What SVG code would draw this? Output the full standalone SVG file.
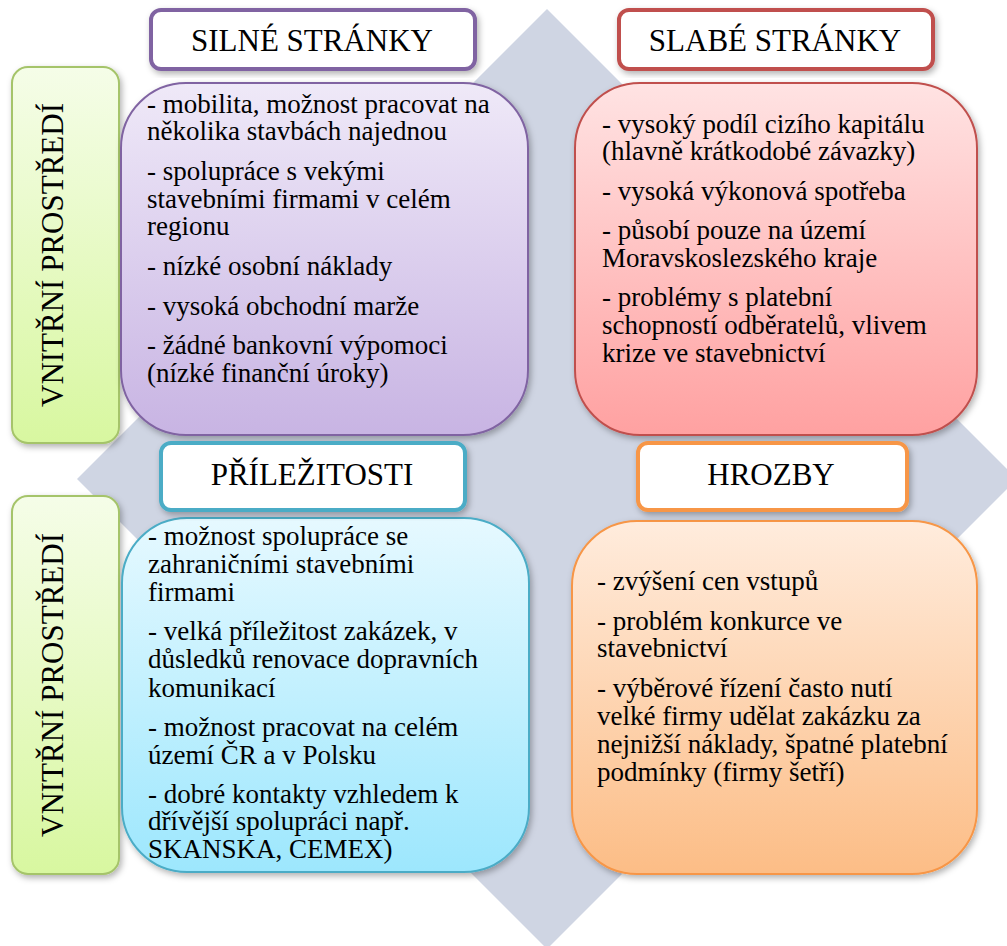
<svg xmlns="http://www.w3.org/2000/svg" width="1007" height="946" viewBox="0 0 1007 946">
  <style>
    .hdr { fill: #ffffff; stroke-width: 4; }
    .box { stroke-width: 2; }
    .t { font-family: 'Liberation Serif', 'Times New Roman', serif; fill: #000000; }
    .ht { font-size: 31px; text-anchor: middle; }
    .bt { font-size: 27px; }
    .side { fill: url(#gGreen); stroke: #a5c46a; stroke-width: 2; }
  </style>
  <defs>
    <linearGradient id="gGreen" x1="0" y1="0" x2="0" y2="1">
      <stop offset="0" stop-color="#f5fde8"/>
      <stop offset="1" stop-color="#d8f7a0"/>
    </linearGradient>
    <linearGradient id="gPurple" x1="0" y1="0" x2="0" y2="1">
      <stop offset="0" stop-color="#efe9f8"/>
      <stop offset="1" stop-color="#c8b4e3"/>
    </linearGradient>
    <linearGradient id="gRed" x1="0" y1="0" x2="0" y2="1">
      <stop offset="0" stop-color="#ffe3e3"/>
      <stop offset="1" stop-color="#ffa1a1"/>
    </linearGradient>
    <linearGradient id="gBlue" x1="0" y1="0" x2="0" y2="1">
      <stop offset="0" stop-color="#e6f9ff"/>
      <stop offset="1" stop-color="#9de7fd"/>
    </linearGradient>
    <linearGradient id="gOrange" x1="0" y1="0" x2="0" y2="1">
      <stop offset="0" stop-color="#ffecdd"/>
      <stop offset="1" stop-color="#fcbd86"/>
    </linearGradient>
    <filter id="sh" x="-10%" y="-10%" width="125%" height="125%">
      <feDropShadow dx="2" dy="3" stdDeviation="3" flood-color="#000000" flood-opacity="0.3"/>
    </filter>
  </defs>

  <rect x="0" y="0" width="1007" height="946" fill="#ffffff"/>

  <!-- background diamond -->
  <polygon points="547,9 1017,479 547,949 77,479" fill="#cfd5e3"/>

  <!-- side labels -->
  <g id="side-top">
    <rect class="side" x="12" y="67" width="107" height="376" rx="16" filter="url(#sh)"/>
    <text class="t" font-size="31" text-anchor="middle" transform="translate(63,255) rotate(-90)">VNITŘNÍ PROSTŘEDÍ</text>
  </g>
  <g id="side-bottom">
    <rect class="side" x="12" y="496" width="107" height="378" rx="16" filter="url(#sh)"/>
    <text class="t" font-size="31" text-anchor="middle" transform="translate(63,685) rotate(-90)">VNITŘNÍ PROSTŘEDÍ</text>
  </g>

  <!-- Strengths -->
  <g id="strengths">
    <rect class="box" x="121" y="83" width="407" height="352" rx="65" fill="url(#gPurple)" stroke="#8064a2" filter="url(#sh)"/>
    <text class="t bt">
      <tspan x="147" y="113">- mobilita, možnost pracovat na</tspan>
      <tspan x="147" y="140">několika stavbách najednou</tspan>
      <tspan x="147" y="180">- spolupráce s vekými</tspan>
      <tspan x="147" y="208">stavebními firmami v celém</tspan>
      <tspan x="147" y="235">regionu</tspan>
      <tspan x="147" y="275">- nízké osobní náklady</tspan>
      <tspan x="147" y="315">- vysoká obchodní marže</tspan>
      <tspan x="147" y="354">- žádné bankovní výpomoci</tspan>
      <tspan x="147" y="382">(nízké finanční úroky)</tspan>
    </text>
  </g>
  <g id="strengths-header">
    <rect class="hdr" x="151" y="10" width="324" height="59" rx="10" stroke="#8064a2" filter="url(#sh)"/>
    <text class="t ht" x="312" y="51">SILNÉ STRÁNKY</text>
  </g>

  <!-- Weaknesses -->
  <g id="weaknesses">
    <rect class="box" x="575" y="83" width="402" height="352" rx="65" fill="url(#gRed)" stroke="#c0504d" filter="url(#sh)"/>
    <text class="t bt">
      <tspan x="602" y="133">- vysoký podíl cizího kapitálu</tspan>
      <tspan x="602" y="160">(hlavně krátkodobé závazky)</tspan>
      <tspan x="602" y="200">- vysoká výkonová spotřeba</tspan>
      <tspan x="602" y="239">- působí pouze na území</tspan>
      <tspan x="602" y="267">Moravskoslezského kraje</tspan>
      <tspan x="602" y="306">- problémy s platební</tspan>
      <tspan x="602" y="334">schopností odběratelů, vlivem</tspan>
      <tspan x="602" y="362">krize ve stavebnictví</tspan>
    </text>
  </g>
  <g id="weaknesses-header">
    <rect class="hdr" x="619" y="10" width="314" height="59" rx="10" stroke="#c0504d" filter="url(#sh)"/>
    <text class="t ht" x="775" y="51">SLABÉ STRÁNKY</text>
  </g>

  <!-- Opportunities -->
  <g id="opportunities">
    <rect class="box" x="122" y="518" width="407" height="354" rx="65" fill="url(#gBlue)" stroke="#4bacc6" filter="url(#sh)"/>
    <text class="t bt">
      <tspan x="148" y="545">- možnost spolupráce se</tspan>
      <tspan x="148" y="573">zahraničními stavebními</tspan>
      <tspan x="148" y="601">firmami</tspan>
      <tspan x="148" y="640">- velká příležitost zakázek, v</tspan>
      <tspan x="148" y="668">důsledků renovace dopravních</tspan>
      <tspan x="148" y="697">komunikací</tspan>
      <tspan x="148" y="736">- možnost pracovat na celém</tspan>
      <tspan x="148" y="764">území ČR a v Polsku</tspan>
      <tspan x="148" y="803">- dobré kontakty vzhledem k</tspan>
      <tspan x="148" y="830">dřívější spolupráci např.</tspan>
      <tspan x="148" y="858">SKANSKA, CEMEX)</tspan>
    </text>
  </g>
  <g id="opportunities-header">
    <rect class="hdr" x="161" y="443" width="304" height="67" rx="10" stroke="#4bacc6" filter="url(#sh)"/>
    <text class="t ht" x="312" y="485">PŘÍLEŽITOSTI</text>
  </g>

  <!-- Threats -->
  <g id="threats">
    <rect class="box" x="572" y="521" width="405" height="353" rx="65" fill="url(#gOrange)" stroke="#f79646" filter="url(#sh)"/>
    <text class="t bt">
      <tspan x="597" y="590">- zvýšení cen vstupů</tspan>
      <tspan x="597" y="630">- problém konkurce ve</tspan>
      <tspan x="597" y="657">stavebnictví</tspan>
      <tspan x="597" y="697">- výběrové řízení často nutí</tspan>
      <tspan x="597" y="725">velké firmy udělat zakázku za</tspan>
      <tspan x="597" y="753">nejnižší náklady, špatné platební</tspan>
      <tspan x="597" y="781">podmínky (firmy šetří)</tspan>
    </text>
  </g>
  <g id="threats-header">
    <rect class="hdr" x="638" y="443" width="269" height="67" rx="10" stroke="#f79646" filter="url(#sh)"/>
    <text class="t ht" x="771" y="485">HROZBY</text>
  </g>
</svg>
